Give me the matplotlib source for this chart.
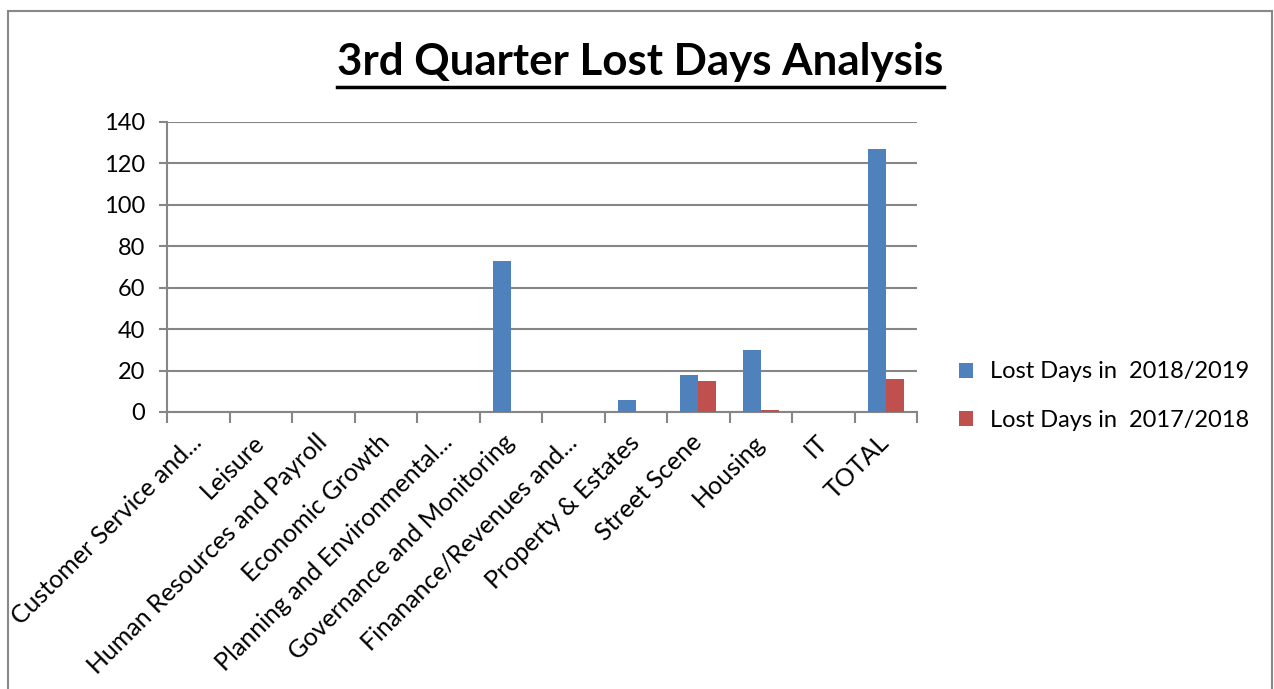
import matplotlib
matplotlib.use("Agg")
import matplotlib.pyplot as plt
import numpy as np
from matplotlib.patches import Rectangle
from matplotlib.lines import Line2D

categories = ["Customer Service and...", "Leisure", "Human Resources and Payroll",
              "Economic Growth", "Planning and Environmental...",
              "Governance and Monitoring", "Finanance/Revenues and...",
              "Property & Estates", "Street Scene", "Housing", "IT", "TOTAL"]
lost_2018_2019 = [0, 0, 0, 0, 0, 73, 0, 6, 18, 30, 0, 127]
lost_2017_2018 = [0, 0, 0, 0, 0, 0, 0, 0, 15, 1, 0, 16]
series_labels = ["Lost Days in  2018/2019", "Lost Days in  2017/2018"]
yticks = [0, 20, 40, 60, 80, 100, 120, 140]
title = "3rd Quarter Lost Days Analysis"

plt.rcParams['font.family'] = ['Lato', 'DejaVu Sans']

W, H = 1274, 689
fig = plt.figure(figsize=(W / 100, H / 100), dpi=100)
ax = fig.add_axes([167 / W, 1 - 412 / H, 750 / W, 290 / H])

x = np.arange(len(categories))
w = 1 / 3.5
blue = "#4F81BD"
red = "#C0504D"
grid = "#868686"
ax.bar(x - w / 2, lost_2018_2019, w, color=blue, label=series_labels[0], zorder=3)
ax.bar(x + w / 2, lost_2017_2018, w, color=red, label=series_labels[1], zorder=3)

ax.set_xlim(-0.5, len(categories) - 0.5)
ax.set_ylim(0, 140)
ax.set_yticks(yticks)
ax.set_yticklabels([str(v) for v in yticks], fontsize=17)
ax.yaxis.grid(True, color=grid, linewidth=1.5, zorder=0)
ax.set_axisbelow(True)
for s in ["top", "right"]:
    ax.spines[s].set_visible(False)
for s in ["left", "bottom"]:
    ax.spines[s].set_color(grid)
    ax.spines[s].set_linewidth(1.5)
ax.tick_params(axis="y", length=6, width=1.5, color=grid, pad=10)
ax.set_xticks(np.arange(len(categories) + 1) - 0.5, minor=True)
ax.tick_params(axis="x", which="minor", length=8, width=1.5, color=grid)
ax.tick_params(axis="x", which="major", length=0, pad=19)
ax.set_xticks(x)
ax.set_xticklabels(categories, fontsize=18, rotation=45, ha="right",
                   rotation_mode="anchor", va="center")

leg = fig.legend(loc="center left", bbox_to_anchor=(938 / W, 1 - 396 / H),
                 frameon=False, fontsize=17, handlelength=0.6, handleheight=0.6,
                 handletextpad=0.7, labelspacing=1.15)

t = fig.text(0.5 * (338 + 943) / W, 1 - 62 / H, title, fontsize=31.6,
             fontweight="bold", ha="center", va="center")
fig.canvas.draw()
bb = t.get_window_extent()
y_ul = 1 - 87 / H
fig.add_artist(Line2D([bb.x0 / W, bb.x1 / W], [y_ul, y_ul], color="black",
                      linewidth=2.5, transform=fig.transFigure))

fig.add_artist(Rectangle((8 / W, -0.1), (1272 - 8) / W, 1.1 - 11 / H,
                         transform=fig.transFigure, fill=False,
                         edgecolor="#888888", linewidth=1.5))

fig.savefig("out.png", dpi=100)
